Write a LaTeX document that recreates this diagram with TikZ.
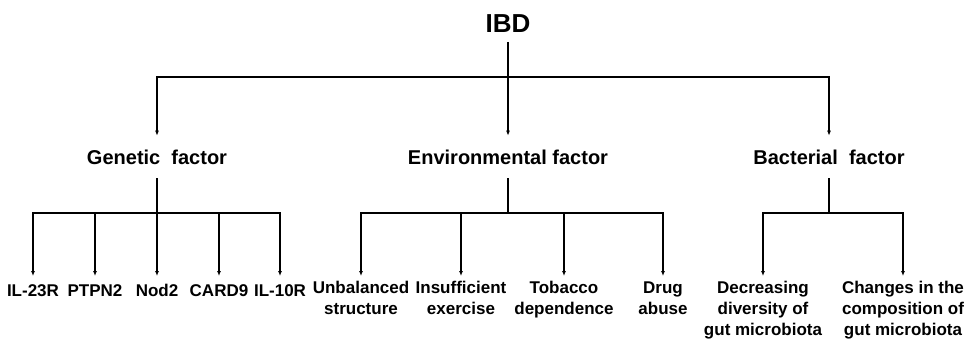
\documentclass[tikz,border=0pt]{standalone}
\usepackage{fontspec}
\setmainfont{Liberation Sans}
\usetikzlibrary{arrows.meta}
\tikzset{>={Latex[length=5pt,width=4pt]}}
\tikzset{root/.style={font=\fontsize{26}{30}\selectfont\bfseries, inner sep=0pt, outer ysep=9pt}}
\tikzset{cat/.style={font=\fontsize{20}{24}\selectfont\bfseries, inner sep=0pt, outer ysep=14pt}}
\tikzset{leaf/.style={font=\fontsize{17}{21}\selectfont\bfseries, align=center, inner sep=0pt,
  outer ysep=5.5pt, anchor=north, execute at begin node=\strut}}

\begin{document}
\begin{tikzpicture}[x=1pt,y=-1pt,line width=1.4pt]
  \useasboundingbox (0,0) rectangle (969,341);
  % Nodes
  \node[root] (ibd) at (508,24) {IBD};
  \node[cat] (gen) at (157,157) {Genetic\ \ factor};
  \node[cat] (env) at (508,157) {Environmental factor};
  \node[cat] (bac) at (829,157) {Bacterial\ \ factor};
  \node[leaf] (il23r) at (33,276) {IL-23R};
  \node[leaf] (ptpn2) at (95,276) {PTPN2};
  \node[leaf] (nod2) at (157,276) {Nod2};
  \node[leaf] (card9) at (219,276) {CARD9};
  \node[leaf] (il10r) at (280,276) {IL-10R};
  \node[leaf] (unbal) at (361,276) {Unbalanced\\structure};
  \node[leaf] (insuf) at (461,276) {Insufficient\\exercise};
  \node[leaf] (tobac) at (564,276) {Tobacco\\dependence};
  \node[leaf] (drug) at (663,276) {Drug\\abuse};
  \node[leaf] (decr) at (763,276) {Decreasing\\diversity of\\gut microbiota};
  \node[leaf] (chang) at (903,276) {Changes in the\\composition of\\gut microbiota};
  % Junctions
  \coordinate (top) at (508,77);
  \coordinate (gbar) at (157,213);
  \coordinate (ebar) at (508,213);
  \coordinate (bbar) at (829,213);
  % Lines
  \draw[<->] (gen) |- (top) -| (bac);
  \draw[->] (ibd) -- (env);
  \draw (gen) -- (gbar);
  \draw[<->] (il23r) |- (gbar) -| (il10r);
  \foreach \n in {ptpn2,nod2,card9}
    \draw[->] (gbar -| \n) -- (\n.north);
  \draw (env) -- (ebar);
  \draw[<->] (unbal) |- (ebar) -| (drug);
  \foreach \n in {insuf,tobac}
    \draw[->] (ebar -| \n) -- (\n.north);
  \draw (bac) -- (bbar);
  \draw[<->] (decr) |- (bbar) -| (chang);
\end{tikzpicture}
\end{document}
